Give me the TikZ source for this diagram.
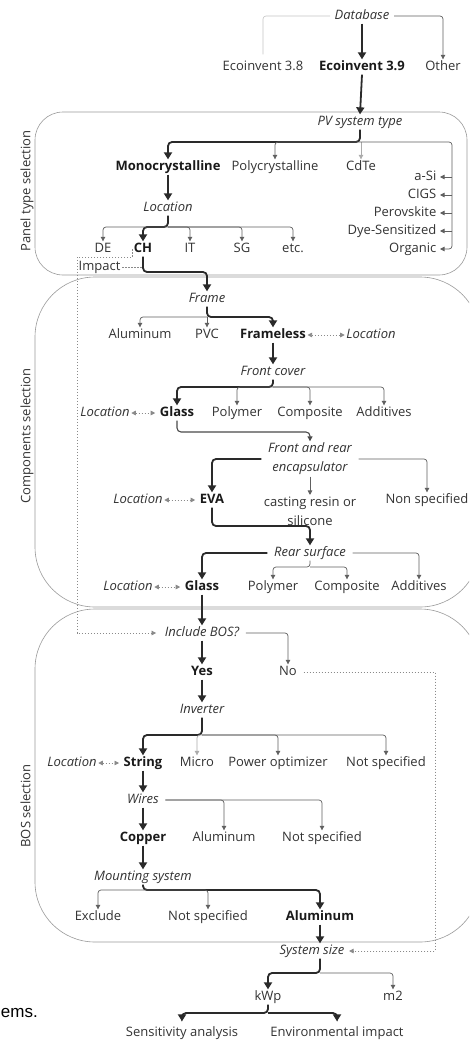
\documentclass[tikz,border=0pt]{standalone}
\usepackage{fontspec}
\setmainfont{Open Sans}
\newfontfamily\arialfont{Liberation Sans}
\usetikzlibrary{arrows.meta}
\definecolor{txtc}{HTML}{333333}
\definecolor{boldc}{HTML}{1A1A1A}
\definecolor{thickc}{HTML}{2A2A2A}
\definecolor{thinc}{HTML}{606060}
\definecolor{lightc}{HTML}{ABABAB}
\definecolor{boxc}{HTML}{9A9A9A}
\definecolor{dotc}{HTML}{8A8A8A}
\begin{document}
\begin{tikzpicture}[x=1pt,y=-1pt,
  lbl/.style={inner sep=1.5pt, text=txtc, font=\fontsize{13}{19}\selectfont},
  tx/.style={lbl, text height=9.3pt, text depth=2.6pt},
  opt/.style={tx},
  sel/.style={tx, text=boldc, font=\fontsize{13}{19}\selectfont\bfseries},
  que/.style={tx, font=\fontsize{13}{19}\selectfont\itshape},
  que2/.style={lbl, align=center, font=\fontsize{13}{19}\selectfont\itshape},
  opt2/.style={lbl, align=center},
  side/.style={tx, rotate=90},
  panel/.style={draw=boxc, line width=0.6pt},
  thk/.style={draw=thickc, line width=1.8pt, rounded corners=4pt, -{Triangle[width=8pt,length=7pt]}},
  thn/.style={draw=thinc, line width=0.7pt, rounded corners=3pt, -{Triangle[width=4.5pt,length=4.5pt]}},
  lgt/.style={thn, draw=lightc},
  med/.style={draw=thickc!85, line width=1.1pt, rounded corners=4pt, -{Triangle[width=5pt,length=5pt]}},
  dts/.style={draw=dotc, line width=0.7pt, dash pattern=on 1.6pt off 1.4pt},
  dtarr/.style={dts, -{Triangle[width=4.5pt,length=4.5pt]}},
  dtboth/.style={dts, {Triangle[width=4.5pt,length=4.5pt]}-{Triangle[width=4.5pt,length=4.5pt]}},
]
\useasboundingbox (0,0) rectangle (469,1041);
\fill[white] (0,0) rectangle (469,1041);
\clip (0,0) rectangle (469,1041);

% panels
\draw[panel, rounded corners=28pt] (35,112) rectangle (467,275);
\draw[panel, rounded corners=60pt] (35,277) rectangle (480,607);
\draw[panel, rounded corners=60pt] (35,609) rectangle (480,942);
\node[side] (lpanel) at (27,191) {Panel type selection};
\node[side] (lcomp) at (27,436) {Components selection};
\node[side] (lbos) at (27,806) {BOS selection};

% bars
\coordinate (b1) at (0,142);
\coordinate (b2) at (0,227);
\coordinate (b3) at (0,272);
\coordinate (b4) at (0,317);
\coordinate (b5) at (0,387);
\coordinate (b6) at (0,432);
\coordinate (b7) at (0,526);
\coordinate (b8) at (0,567);
\coordinate (b9) at (0,735);
\coordinate (b10) at (0,890);
\coordinate (b11) at (0,973);
\coordinate (b12) at (0,1013);
\coordinate (dl) at (0,257);

% nodes
\node[que] (db) at (362,16) {Database};
\node[opt] (eco38) at (263,67) {Ecoinvent 3.8};
\node[sel] (eco39) at (362,67) {Ecoinvent 3.9};
\node[opt] (other) at (443,67) {Other};
\node[que] (pv) at (360,122) {PV system type};
\node[sel] (mono) at (168,167) {Monocrystalline};
\node[opt] (poly) at (275,167) {Polycrystalline};
\node[opt] (cdte) at (361,167) {CdTe};
\node[opt, anchor=east] (asi) at (438,177) {a-Si};
\node[opt, anchor=east] (cigs) at (438,195) {CIGS};
\node[opt, anchor=east] (perov) at (438,213) {Perovskite};
\node[opt, anchor=east] (dye) at (438,231) {Dye-Sensitized};
\node[opt, anchor=east] (organic) at (438,249) {Organic};
\node[que] (loc1) at (168,208) {Location};
\node[opt] (de) at (103,249) {DE};
\node[sel] (ch) at (143,249) {CH};
\node[opt] (it) at (190,249) {IT};
\node[opt] (sg) at (242,249) {SG};
\node[opt] (etc) at (293,249) {etc.};
\node[opt, anchor=west] (impact) at (77,267) {Impact};

\node[que] (frame) at (207,299) {Frame};
\node[opt] (alu1) at (140,335) {Aluminum};
\node[opt] (pvc) at (207,335) {PVC};
\node[sel] (frameless) at (273,335) {Frameless};
\node[que] (locF) at (371,335) {Location};
\node[que] (front) at (273,372) {Front cover};
\node[que] (locG1) at (105,413) {Location};
\node[sel] (glass1) at (177,413) {Glass};
\node[opt] (polym1) at (237,413) {Polymer};
\node[opt] (compo1) at (310,413) {Composite};
\node[opt] (addit1) at (384,413) {Additives};
\node[que2] (enc) at (310,459) {Front and rear\\encapsulator};
\node[que] (locE) at (138,500) {Location};
\node[sel] (eva) at (212,500) {EVA};
\node[opt2] (cast) at (310,511) {casting resin or\\silicone};
\node[opt] (nonspec) at (427,500) {Non specified};
\node[que] (rear) at (310,553) {Rear surface};
\node[que] (locG2) at (128,587) {Location};
\node[sel] (glass2) at (202,587) {Glass};
\node[opt] (polym2) at (273,587) {Polymer};
\node[opt] (compo2) at (347,587) {Composite};
\node[opt] (addit2) at (419,587) {Additives};

\node[que] (bos) at (202,633) {Include BOS?};
\node[sel] (yes) at (202,672) {Yes};
\node[opt] (no) at (288,672) {No};
\node[que] (inv) at (202,710) {Inverter};
\node[que] (locS) at (72,763) {Location};
\node[sel] (string) at (143,763) {String};
\node[opt] (micro) at (197,763) {Micro};
\node[opt] (powopt) at (278,763) {Power optimizer};
\node[opt] (notspec1) at (386,763) {Not specified};
\node[que] (wires) at (143,800) {Wires};
\node[sel] (copper) at (143,838) {Copper};
\node[opt] (alu2) at (224,838) {Aluminum};
\node[opt] (notspec2) at (322,838) {Not specified};
\node[que] (mount) at (143,877) {Mounting system};
\node[opt] (exclude) at (98,917) {Exclude};
\node[opt] (notspec3) at (208,917) {Not specified};
\node[sel] (alu3) at (320,917) {Aluminum};
\node[que] (size) at (312,951) {System size};
\node[opt] (kwp) at (268,997) {kWp};
\node[opt] (m2) at (393,997) {m2};
\node[opt] (sens) at (182,1033) {Sensitivity analysis};
\node[opt] (env) at (337,1033) {Environmental impact};
\node[anchor=east, inner sep=0pt, font=\arialfont\fontsize{17}{20}\selectfont, text=black] (ems) at (38,1013) {ems.};

% connectors: database
\draw[draw=lightc!70, line width=0.6pt, rounded corners=3pt] ([xshift=-3pt]db.west) -| ([yshift=5pt]eco38.north);
\draw[thn] ([xshift=3pt]db.east) -| (other.north);
\draw[thk] (db.south) -- (eco39.north);
\draw[thk] (eco39.south) -- (pv.north);

% panel type
\draw[thk] (pv.south) -- (pv.south |- b1) -| (mono.north);
\draw[thn] (pv.south |- b1) -| (poly.north);
\draw[lgt] (cdte.north |- b1) -- (cdte.north);
\coordinate (rv) at (452,142);
\draw[thn] (pv.south |- b1) -- (rv) |- ([xshift=2pt]organic.east);
\foreach \n in {asi,cigs,perov,dye} \draw[thn] (rv |- \n.east) -- ([xshift=2pt]\n.east);
\draw[thk] (mono.south) -- (loc1.north);
\draw[thk] (loc1.south) -- (loc1.south |- b2) -| (ch.north);
\foreach \n in {de,it,sg,etc} \draw[thn] (loc1.south |- b2) -| (\n.north);

% impact dotted path
\draw[dtarr] (ch.west) -- (ch.west |- dl) -- (impact.west |- dl) |- ([xshift=-7pt]bos.west);
\draw[dts] (impact.east) -- (impact.east -| ch.south);

% components
\draw[thk] (ch.south) -- (ch.south |- b3) -| (frame.north);
\draw[thk] (frame.south) -- (frame.south |- b4) -| (frameless.north);
\draw[thn] (frame.south |- b4) -| (alu1.north);
\draw[thn] (frame.south |- b4) -- (pvc.north);
\draw[dtboth] (frameless.east) -- (locF.west);
\draw[thk] (frameless.south) -- (front.north);
\draw[thk] (front.south) -- (front.south |- b5) -| (glass1.north);
\foreach \n in {polym1,compo1,addit1} \draw[thn] (front.south |- b5) -| (\n.north);
\draw[dtboth] (locG1.east) -- ([xshift=-3pt]glass1.west);
\draw[med] (glass1.south) -- (glass1.south |- b6) -| (enc.north);
\draw[thk] ([xshift=-5pt]enc.west) -| (eva.north);
\draw[thn] ([xshift=5pt]enc.east) -| (nonspec.north);
\draw[thn] (enc.south) -- (cast.north);
\draw[dtboth] (locE.east) -- ([xshift=-3pt]eva.west);
\draw[thk] (eva.south) -- (eva.south |- b7) -| (rear.north);
\draw[thk] ([xshift=-5pt]rear.west) -| (glass2.north);
\draw[thn] ([xshift=5pt]rear.east) -| (addit2.north);
\draw[thn] (rear.south) -- (rear.south |- b8) -| (polym2.north);
\draw[thn] (rear.south |- b8) -| (compo2.north);
\draw[dtboth] (locG2.east) -- ([xshift=-3pt]glass2.west);
\draw[thk] (glass2.south) -- (bos.north);

% BOS
\draw[thk] (bos.south) -- (yes.north);
\draw[thn] ([xshift=5pt]bos.east) -| (no.north);
\coordinate (dr) at (435,0);
\draw[dtarr] ([xshift=5pt]no.east) -| (dr |- size.east) -- ([xshift=3pt]size.east);
\draw[thk] (yes.south) -- (inv.north);
\draw[thk] (inv.south) -- (inv.south |- b9) -| (string.north);
\draw[lgt] (inv.south |- b9) -| (micro.north);
\draw[thn] (inv.south |- b9) -| (powopt.north);
\draw[thn] (inv.south |- b9) -| (notspec1.north);
\draw[dtboth] (locS.east) -- ([xshift=-3pt]string.west);
\draw[thk] (string.south) -- (wires.north);
\draw[thk] (wires.south) -- (copper.north);
\draw[thk] (copper.south) -- (mount.north);
\draw[thn] ([xshift=5pt]wires.east) -| (alu2.north);
\draw[thn] ([xshift=5pt]wires.east) -| (notspec2.north);
\draw[thk] (mount.south) -- (mount.south |- b10) -| (alu3.north);
\draw[thn] (mount.south |- b10) -| (exclude.north);
\draw[thn] (mount.south |- b10) -| (notspec3.north);
\draw[thk] (alu3.south) -- (alu3.south |- size.north);

% system size
\coordinate (sz) at (alu3.south |- size.south);
\draw[thk] (sz) -- (sz |- b11) -| (kwp.north);
\draw[thn] (sz |- b11) -| (m2.north);
\draw[thk] (kwp.south) -- (kwp.south |- b12) -| ([yshift=4pt]sens.north);
\draw[thk] (kwp.south |- b12) -| ([yshift=4pt]env.north);
\end{tikzpicture}
\end{document}
